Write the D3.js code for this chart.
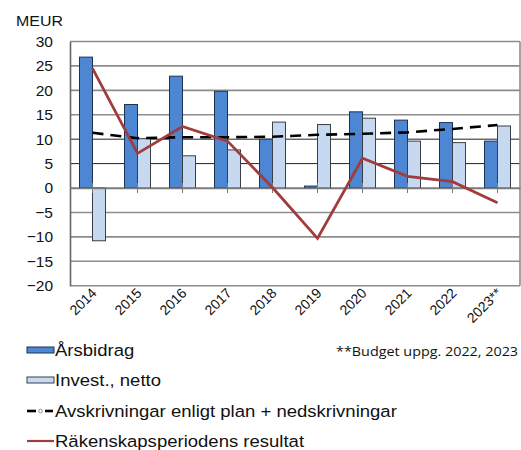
<!DOCTYPE html>
<html><head><meta charset="utf-8">
<script src="https://cdn.jsdelivr.net/npm/d3@7"></script>
<style>body{margin:0;background:#fff;}svg{display:block;}</style>
</head><body>
<svg id="c" width="521" height="450"></svg>
<script>
const years = ["2014","2015","2016","2017","2018","2019","2020","2021","2022","2023**"];
const arsbidrag = [26.8, 17.1, 22.9, 19.8, 10.0, 0.4, 15.6, 13.9, 13.4, 9.6];
const invest = [-10.8, 10.1, 6.6, 7.8, 13.5, 13.0, 14.3, 9.6, 9.3, 12.7];
const avskrivningar = [11.3, 10.2, 10.4, 10.4, 10.5, 10.9, 11.1, 11.4, 12.1, 12.9];
const resultat = [24.5, 7.1, 12.6, 9.6, 0.1, -10.3, 6.1, 2.4, 1.3, -3.0];
const yTicks = [-20,-15,-10,-5,0,5,10,15,20,25,30];
const legendLabels = ["Årsbidrag","Invest., netto","Avskrivningar enligt plan + nedskrivningar","Räkenskapsperiodens resultat"];
const footnote = "**Budget uppg. 2022, 2023";

(function(){
const svg = d3.select("#c");
const pL = 70, pR = 520, pT = 41.5, pB = 285.7;
const x = d3.scaleBand().domain(years).range([pL, pR]);
const y = d3.scaleLinear().domain([-20, 30]).range([pB, pT]);
const inner = d3.scaleBand().domain(["a","i"]).range([0, 26]);
const off = (x.bandwidth() - 26) / 2;

const dark = "#4D87D3", light = "#C6D9F1", red = "#A03C3C";
const lf = "Liberation Sans, Arial, sans-serif";

// gridlines
svg.append("g").selectAll("line").data(yTicks).join("line")
  .attr("x1", pL).attr("x2", pR)
  .attr("y1", d => y(d)).attr("y2", d => y(d))
  .attr("stroke", d => (d === 5 || d === 10) ? "#222" : "#8c8c8c")
  .attr("stroke-width", d => (d === 5 || d === 10) ? 1 : 1.6);
svg.append("line").attr("x1", pR).attr("x2", pR).attr("y1", pT).attr("y2", pB)
  .attr("stroke", "#8c8c8c").attr("stroke-width", 1.6);

// bars
const g = svg.append("g");
g.selectAll("rect.a").data(arsbidrag).join("rect").attr("class","a")
  .attr("x", (d,i) => x(years[i]) + off + inner("a"))
  .attr("width", inner.bandwidth())
  .attr("y", d => y(Math.max(0,d))).attr("height", d => Math.abs(y(d) - y(0)))
  .attr("fill", dark).attr("stroke", "#1f3350").attr("stroke-width", 1);
g.selectAll("rect.i").data(invest).join("rect").attr("class","i")
  .attr("x", (d,i) => x(years[i]) + off + inner("i"))
  .attr("width", inner.bandwidth())
  .attr("y", d => y(Math.max(0,d))).attr("height", d => Math.abs(y(d) - y(0)))
  .attr("fill", light).attr("stroke", "#3a3f47").attr("stroke-width", 1);

// y axis
const yAxis = d3.axisLeft(y).tickValues(yTicks).tickSize(0).tickPadding(17);
const ya = svg.append("g").attr("transform", `translate(${pL},0)`).call(yAxis);
ya.select(".domain").attr("stroke", "#666").attr("stroke-width", 1.6);
ya.selectAll("text").attr("font-family", lf)
  .attr("font-size", 15.5).attr("fill", "#111");

// x axis at zero
const xAxis = d3.axisBottom(x).tickSize(5).tickSizeOuter(0).tickFormat("");
const xa = svg.append("g").attr("transform", `translate(0,${y(0)})`).call(xAxis);
xa.select(".domain").attr("stroke", "#7a7a7a").attr("stroke-width", 1.5);
xa.selectAll(".tick line").attr("stroke", "#7a7a7a").attr("y1", -5).attr("y2", 5);

// x labels rotated
svg.append("g").selectAll("text").data(years).join("text")
  .attr("transform", d => `translate(${x(d) + x.bandwidth()/2 + 5},${294}) rotate(-45)`)
  .attr("text-anchor", "end")
  .attr("font-family", lf)
  .attr("font-size", 14).attr("fill", "#111")
  .text(d => d);

// lines
const cx = (d,i) => x(years[i]) + x.bandwidth()/2;
svg.append("path").datum(avskrivningar)
  .attr("d", d3.line().x(cx).y(d => y(d)))
  .attr("fill", "none").attr("stroke", "#000").attr("stroke-width", 2.6)
  .attr("stroke-dasharray", "11,7");
svg.append("path").datum(resultat)
  .attr("d", d3.line().x(cx).y(d => y(d)))
  .attr("fill", "none").attr("stroke", red).attr("stroke-width", 2.8)
  .attr("stroke-linejoin", "miter");

// MEUR label
svg.append("text").attr("transform", "translate(16,26) scale(1.1,1)").text("MEUR")
  .attr("font-family", lf).attr("font-size", 14.5).attr("fill", "#111");

// legend
const ly = [350, 380, 411, 441];
const lg = svg.append("g");
lg.append("rect").attr("x", 27).attr("y", ly[0]-3).attr("width", 27).attr("height", 6)
  .attr("fill", dark).attr("stroke", "#1f3350");
lg.append("rect").attr("x", 27).attr("y", ly[1]-3).attr("width", 27).attr("height", 6)
  .attr("fill", light).attr("stroke", "#3a3f47");
lg.append("line").attr("x1", 27).attr("x2", 36).attr("y1", ly[2]).attr("y2", ly[2]).attr("stroke", "#000").attr("stroke-width", 2.6);
lg.append("circle").attr("cx", 40.5).attr("cy", ly[2]).attr("r", 1.8).attr("fill", "#fff").attr("stroke", "#777").attr("stroke-width", 0.8);
lg.append("line").attr("x1", 45).attr("x2", 53).attr("y1", ly[2]).attr("y2", ly[2]).attr("stroke", "#000").attr("stroke-width", 2.6);
lg.append("line").attr("x1", 27).attr("x2", 54).attr("y1", ly[3]).attr("y2", ly[3]).attr("stroke", red).attr("stroke-width", 2.2);
lg.selectAll("text").data(legendLabels).join("text")
  .attr("transform", (d,i) => `translate(55,${ly[i] + 6}) scale(1.09,1)`)
  .attr("font-family", lf).attr("font-size", 17).attr("fill", "#111")
  .text(d => d);

svg.append("text").attr("transform", "translate(336,356) scale(1.08,1)").text(footnote)
  .attr("font-family", "Open Sans, sans-serif").attr("font-size", 13.3).attr("fill", "#111");
})();
</script>
</body></html>
